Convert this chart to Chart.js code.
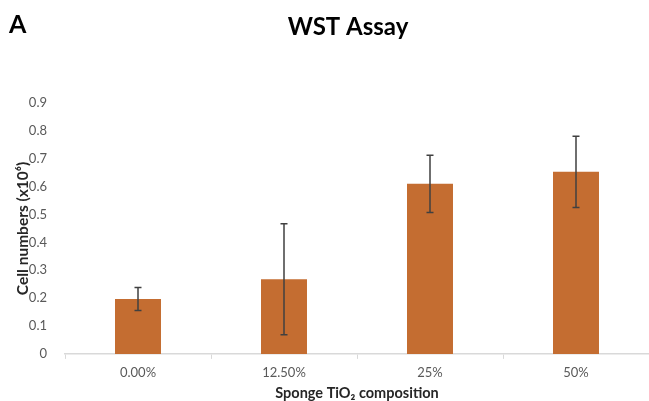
<!DOCTYPE html>
<html>
<head>
<meta charset="utf-8">
<script src="https://cdn.jsdelivr.net/npm/chart.js@4"></script>
<style>
  body { margin: 0; background: #fff; }
</style>
</head>
<body>
<canvas id="wstChart" width="649" height="401"></canvas>
<script>
// data
const categories = ['0.00%', '12.50%', '25%', '50%'];
const cellNumbers = [0.197, 0.268, 0.61, 0.653];
const errors = [0.041, 0.199, 0.103, 0.128];
const yTicks = [0, 0.1, 0.2, 0.3, 0.4, 0.5, 0.6, 0.7, 0.8, 0.9];

const FONT = 'Lato, "Open Sans", sans-serif';

// panel letter + title
const header = {
    id: 'header',
    afterDraw(chart) {
        const ctx = chart.ctx;
        ctx.save();
        ctx.fillStyle = '#000';
        ctx.textBaseline = 'alphabetic';
        ctx.font = 'bold 25px ' + FONT;
        ctx.textAlign = 'left';
        ctx.fillText('A', 9, 33);
        ctx.font = 'bold 24px ' + FONT;
        ctx.textAlign = 'center';
        ctx.fillText('WST Assay', 348, 35);
        ctx.restore();
    }
};

// error bars, drawn through the y scale
const errorBars = {
    id: 'errorBars',
    afterDatasetsDraw(chart) {
        const ctx = chart.ctx;
        const y = chart.scales.y;
        const meta = chart.getDatasetMeta(0);
        ctx.save();
        ctx.strokeStyle = '#404040';
        ctx.lineWidth = 1.5;
        meta.data.forEach((bar, i) => {
            const top = y.getPixelForValue(cellNumbers[i] + errors[i]);
            const bottom = y.getPixelForValue(cellNumbers[i] - errors[i]);
            const cx = bar.x;
            ctx.beginPath();
            ctx.moveTo(cx, top); ctx.lineTo(cx, bottom);
            ctx.moveTo(cx - 3.5, top); ctx.lineTo(cx + 3.5, top);
            ctx.moveTo(cx - 3.5, bottom); ctx.lineTo(cx + 3.5, bottom);
            ctx.stroke();
        });
        ctx.restore();
    }
};

new Chart(document.getElementById('wstChart'), {
    type: 'bar',
    data: {
        labels: categories,
        datasets: [{
            data: cellNumbers,
            backgroundColor: '#c46d31',
            borderWidth: 0,
            categoryPercentage: 1,
            barPercentage: 0.315
        }]
    },
    options: {
        responsive: false,
        animation: false,
        layout: { padding: { top: 103, left: 5, right: 0, bottom: 0 } },
        plugins: {
            legend: { display: false },
            tooltip: { enabled: false }
        },
        scales: {
            x: {
                grid: {
                    display: true,
                    drawOnChartArea: false,
                    drawTicks: true,
                    tickLength: 5,
                    color: '#d9d9d9',
                    offset: true
                },
                border: { color: '#d9d9d9', width: 1.5 },
                ticks: {
                    color: '#595959',
                    font: { family: FONT, size: 13 },
                    padding: 6
                },
                title: {
                    display: true,
                    text: 'Sponge TiO₂ composition',
                    color: '#262626',
                    font: { family: FONT, size: 14.5, weight: 'bold', lineHeight: 1 },
                    padding: { top: 0, bottom: 0 }
                }
            },
            y: {
                min: 0,
                max: 0.9,
                afterBuildTicks: (scale) => {
                    scale.ticks = yTicks.map(v => ({ value: v }));
                },
                afterFit: (scale) => { scale.width = 60; },
                grid: { display: false },
                border: { display: false },
                ticks: {
                    color: '#595959',
                    font: { family: FONT, size: 13 },
                    padding: 10,
                    callback: (v) => String(Math.round(v * 10) / 10)
                },
                title: {
                    display: true,
                    text: 'Cell numbers (x10⁶)',
                    color: '#262626',
                    font: { family: FONT, size: 15.5, weight: 'bold', lineHeight: 1 },
                    padding: { top: 10, bottom: 0 }
                }
            }
        }
    },
    plugins: [header, errorBars]
});
</script>
</body>
</html>
